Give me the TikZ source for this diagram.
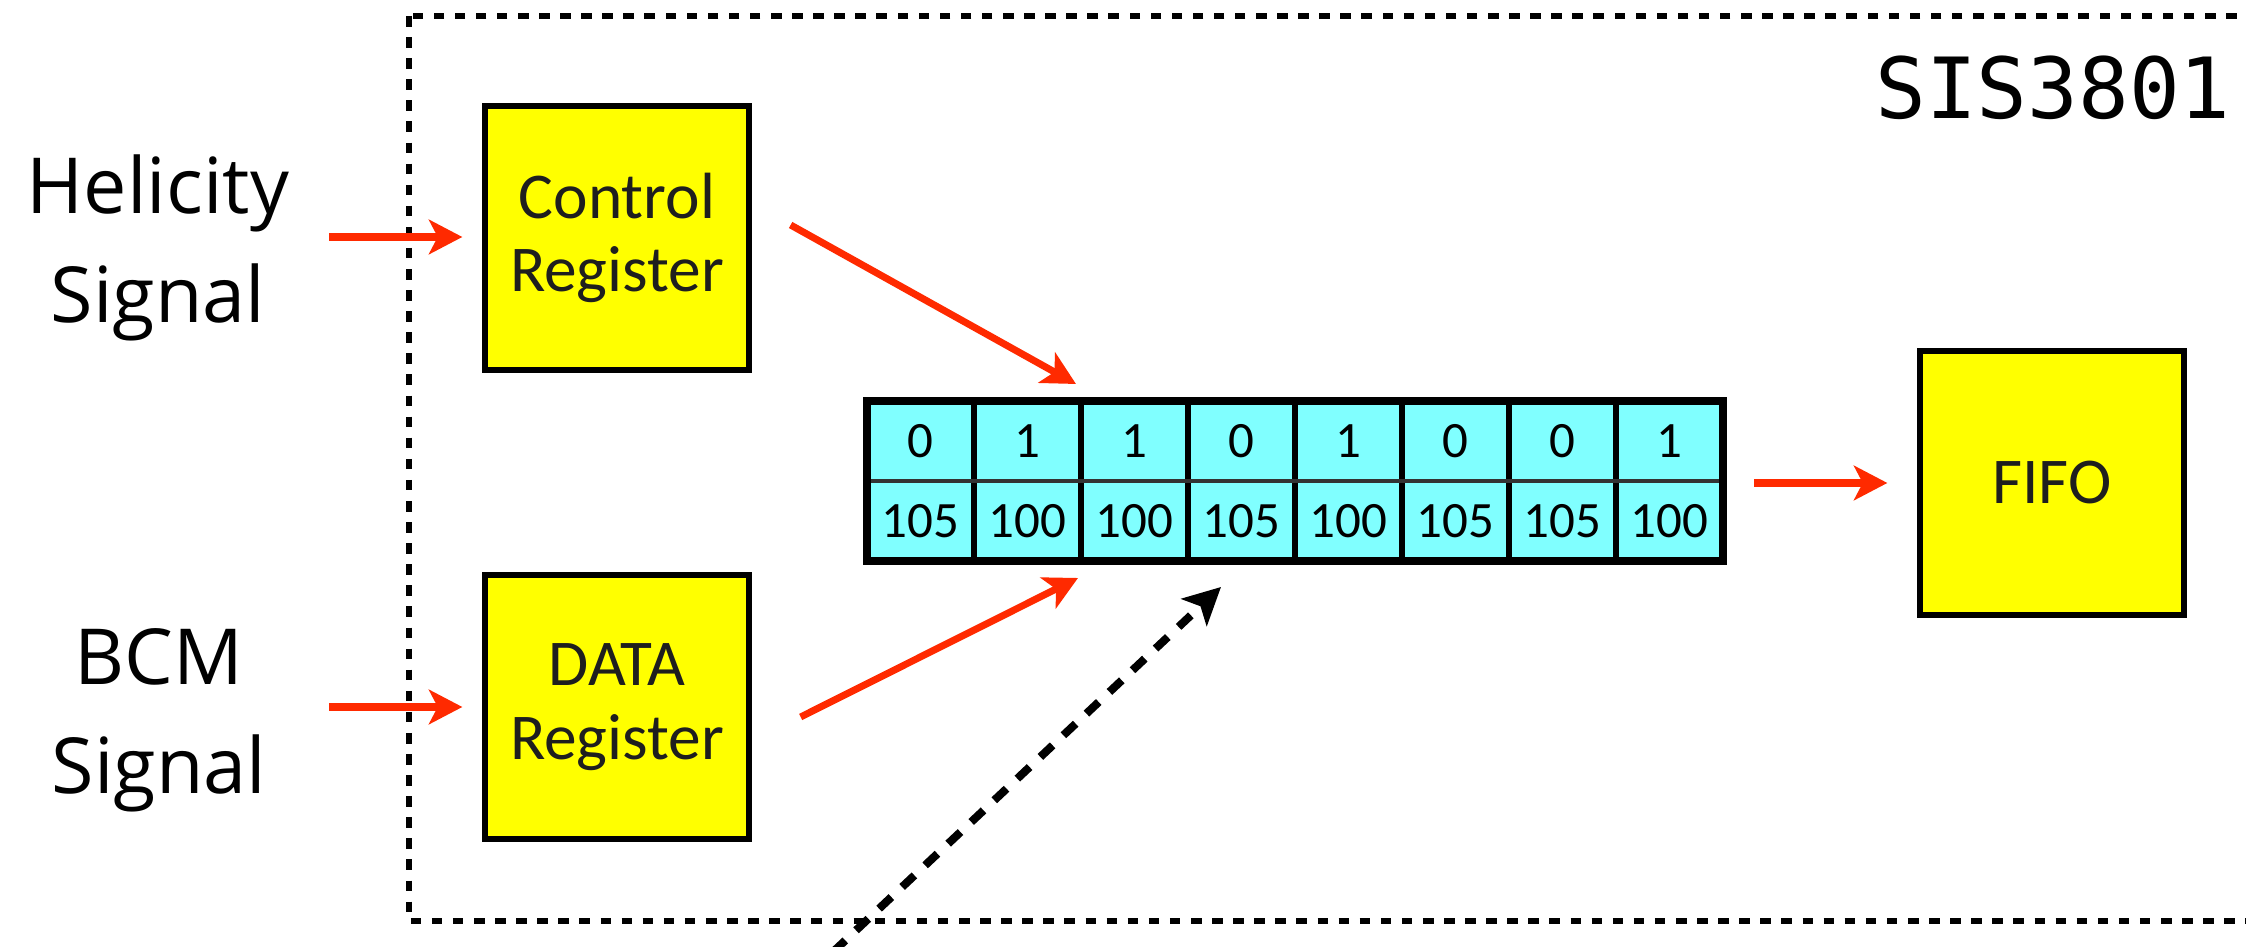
\documentclass[tikz,border=0pt]{standalone}
\usepackage{fontspec}
\setmainfont{Carlito}
\newfontfamily\labelfont{Open Sans}
\newfontfamily\boxfont{Carlito}
\newfontfamily\sismono{DejaVu Sans Mono}
\usetikzlibrary{arrows.meta}
\definecolor{regyellow}{HTML}{FFFF00}
\definecolor{cellcyan}{HTML}{80FFFF}
\definecolor{arrred}{HTML}{FF2A00}
\definecolor{boxtext}{HTML}{1E1E1E}
\begin{document}
\begin{tikzpicture}[x=0.1mm,y=-0.1mm,
  regbox/.style={draw=black, line width=1.5pt, fill=regyellow, minimum width=26.4mm, minimum height=26.4mm, inner sep=0pt, align=center, font=\boxfont\fontsize{18.6}{21}\selectfont, text=boxtext},
  sidelabel/.style={align=center, font=\labelfont\fontsize{22}{31}\selectfont, inner sep=0pt},
  redarrow/.style={draw=arrred, line width=2pt, -{Stealth[length=9.5pt,width=9.8pt,inset=2.5pt]}},
  dasharrow/.style={draw=black, line width=2.3pt, dash pattern=on 4.8pt off 4.2pt, -{Stealth[length=10.5pt,width=10.5pt,inset=2.5pt]}},
  framedash/.style={draw=black, line width=1.5pt, dash pattern=on 3pt off 3pt},
  cell/.style={fill=cellcyan, minimum width=10.7mm, minimum height=8mm, inner sep=0pt, outer sep=0pt, font=\boxfont\fontsize{14.5}{16}\selectfont},
  celldiv/.style={draw=black, line width=1.7pt},
  rowdiv/.style={draw=black!80, line width=1.3pt},
  arrayframe/.style={draw=black, line width=2.3pt}
]
\useasboundingbox (0,0) rectangle (2246,947);
\clip (0,0) rectangle (2246,947);
% frame
\draw[framedash] (409,16) rectangle (2400,921);
% boxes
\node[regbox] (ctrl) at (617,238) {Control\\Register};
\node[regbox] (data) at (617,707) {DATA\\Register};
\node[regbox] (fifo) at (2052,483) {FIFO};
% labels
\node[sidelabel] (hel) at (158,248) {Helicity\\Signal};
\node[sidelabel] (bcm) at (159,720) {BCM\\Signal};
\node[font=\sismono\fontsize{24}{28}\selectfont, anchor=base, inner sep=0pt] (sis) at (2053,119) {SIS3801};
% register array
\foreach \i/\t/\b in {1/0/105,2/1/100,3/1/100,4/0/105,5/1/100,6/0/105,7/0/105,8/1/100}{
  \node[cell] (t\i) at ({867+107*(\i-0.5)},441) {\t};
  \node[cell] (b\i) at ({867+107*(\i-0.5)},521) {\b};
}
\foreach \i in {1,...,7}{\draw[celldiv] (t\i.north east) -- (b\i.south east);}
\draw[rowdiv] (t1.south west) -- (t8.south east);
\draw[arrayframe] (t1.north west) rectangle (b8.south east);
% arrows
\coordinate (hin) at (329,237);
\coordinate (bin) at (329,707);
\coordinate (trig) at (833,952);
\draw[redarrow, shorten >=2mm] (hin) -- (hin -| ctrl.west);
\draw[redarrow, shorten >=2mm] (bin) -- (bin -| data.west);
\draw[redarrow] ([shift={(39,-13)}]ctrl.east) -- ([shift={(-5,-17)}]t2.north east);
\draw[redarrow] ([shift={(49,10)}]data.east) -- ([shift={(-3,17)}]b2.south east);
\draw[redarrow, shorten <=3.1mm, shorten >=3mm] (fifo.west -| b8.east) -- (fifo.west);
\draw[dasharrow] (trig) -- ([shift={(33,26)}]b4.south west);
\end{tikzpicture}
\end{document}
